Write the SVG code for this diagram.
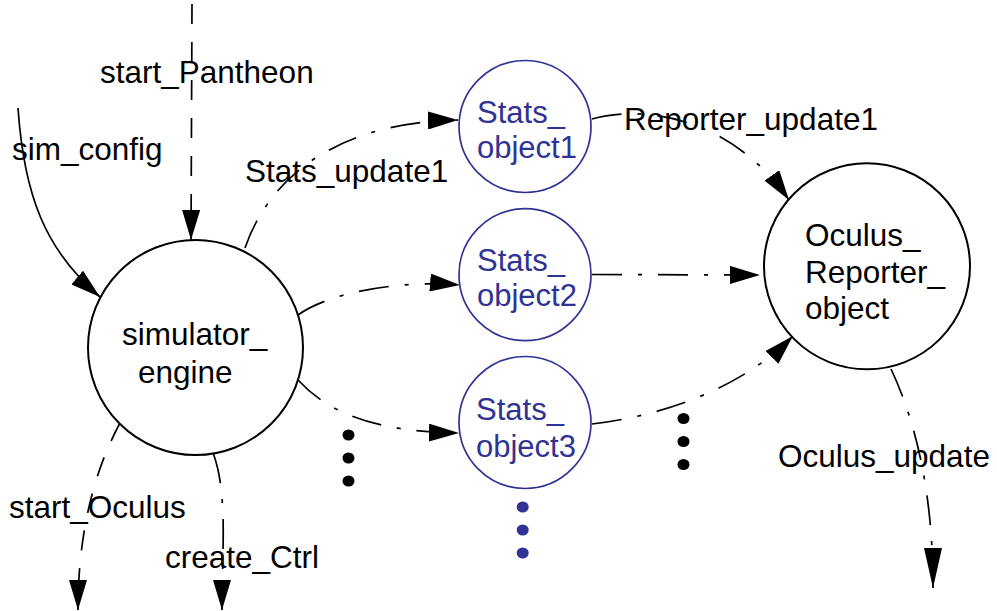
<svg xmlns="http://www.w3.org/2000/svg" width="997" height="611" viewBox="0 0 997 611">
  <style>
    .bg { fill: #ffffff; }
    .node-black { fill: #ffffff; stroke: #000000; stroke-width: 2; }
    .node-blue { fill: #ffffff; stroke: #2f3394; stroke-width: 1.7; }
    .txt { font-family: "Liberation Sans", Arial, Helvetica, sans-serif; font-size: 31.5px; fill: #000000; }
    .txt-blue { font-family: "Liberation Sans", Arial, Helvetica, sans-serif; font-size: 31px; fill: #2f3394; }
    .edge { fill: none; stroke: #000000; stroke-width: 1.7; }
    .solid { }
    .dashed { stroke-dasharray: 20 18; }
    .dashdot { stroke-dasharray: 30 16 4 16; }
    .dot-black { fill: #000000; }
    .dot-blue { fill: #2f3394; }
  </style>
  <defs>
    <marker id="arrow" markerUnits="userSpaceOnUse" viewBox="0 0 30 18" markerWidth="30" markerHeight="18" refX="30" refY="9" orient="auto">
      <path d="M0,0 L30,9 L0,18 z" fill="#000000"/>
    </marker>
    <marker id="arrow-long" markerUnits="userSpaceOnUse" viewBox="0 0 40 18" markerWidth="40" markerHeight="18" refX="40" refY="9" orient="auto">
      <path d="M0,0 L40,9 L0,18 z" fill="#000000"/>
    </marker>
  </defs>

  <rect class="bg" x="0" y="0" width="997" height="611"/>

  <!-- connectors -->
  <g id="connectors">
    <path id="e-sim-config" class="edge solid" d="M18,108 C24,195 45,250 100,297" marker-end="url(#arrow)"/>
    <path id="e-start-pantheon" class="edge dashed" d="M192,4 L191,240" marker-end="url(#arrow)"/>
    <path id="e-stats-update1" class="edge dashdot" d="M245,248 C270,175 340,122 458,120" marker-end="url(#arrow)"/>
    <path id="e-stats-update2" class="edge dashdot" d="M298,315 C330,292 400,280 460,285" marker-end="url(#arrow)"/>
    <path id="e-stats-update3" class="edge dashdot" d="M298,380 C330,415 380,432 459,433" marker-end="url(#arrow)"/>
    <path id="e-start-oculus" class="edge dashed" d="M120,423 C100,460 78,520 78,610" marker-end="url(#arrow)"/>
    <path id="e-create-ctrl" class="edge dashdot" d="M213.5,454 C228,495 222,550 222,610" marker-end="url(#arrow)"/>
    <path id="e-reporter-update1" class="edge dashdot" d="M592,119 C640,105 730,115 789,200" marker-end="url(#arrow)"/>
    <path id="e-reporter-update2" class="edge dashdot" d="M592,274.5 L760,275" marker-end="url(#arrow)"/>
    <path id="e-reporter-update3" class="edge dashdot" d="M592,424 C660,416 740,390 793,336" marker-end="url(#arrow)"/>
    <path id="e-oculus-update" class="edge dashdot" d="M891,369 C915,420 933,490 933,588" marker-end="url(#arrow-long)"/>
  </g>

  <!-- connector labels -->
  <g id="edge-labels">
    <text class="txt" x="100" y="83">start_Pantheon</text>
    <text class="txt" x="12" y="160">sim_config</text>
    <text class="txt" x="245" y="182">Stats_update1</text>
    <text class="txt" x="624" y="130">Reporter_update1</text>
    <text class="txt" x="9" y="518">start_Oculus</text>
    <text class="txt" x="165" y="568">create_Ctrl</text>
    <text class="txt" x="778" y="467">Oculus_update</text>
  </g>

  <!-- nodes -->
  <g id="simulator_engine">
    <circle class="node-black" cx="195.5" cy="347.5" r="107.5"/>
    <text class="txt" x="122" y="345">simulator_</text>
    <text class="txt" x="138" y="383">engine</text>
  </g>

  <g id="Stats_object1">
    <circle class="node-blue" cx="525" cy="126.5" r="66"/>
    <text class="txt-blue" x="477" y="122.5">Stats_</text>
    <text class="txt-blue" x="477" y="157.5">object1</text>
  </g>

  <g id="Stats_object2">
    <circle class="node-blue" cx="525" cy="274.7" r="66"/>
    <text class="txt-blue" x="477" y="271">Stats_</text>
    <text class="txt-blue" x="477" y="306">object2</text>
  </g>

  <g id="Stats_object3">
    <circle class="node-blue" cx="525" cy="422.5" r="66"/>
    <text class="txt-blue" x="476" y="420">Stats_</text>
    <text class="txt-blue" x="476" y="457">object3</text>
  </g>

  <g id="Oculus_Reporter_object">
    <circle class="node-black" cx="867" cy="266.3" r="103"/>
    <text class="txt" x="805" y="246">Oculus_</text>
    <text class="txt" x="805" y="282.5">Reporter_</text>
    <text class="txt" x="805" y="318.5">object</text>
  </g>

  <!-- ellipsis marks -->
  <g id="more-links-left">
    <ellipse class="dot-black" cx="348.5" cy="435" rx="6" ry="5.5"/>
    <ellipse class="dot-black" cx="348.5" cy="458" rx="6" ry="5.5"/>
    <ellipse class="dot-black" cx="348.5" cy="481" rx="6" ry="5.5"/>
  </g>
  <g id="more-links-right">
    <ellipse class="dot-black" cx="683.5" cy="418.5" rx="6" ry="5.5"/>
    <ellipse class="dot-black" cx="683.5" cy="441.5" rx="6" ry="5.5"/>
    <ellipse class="dot-black" cx="683.5" cy="464.5" rx="6" ry="5.5"/>
  </g>
  <g id="more-stats-objects">
    <ellipse class="dot-blue" cx="522.7" cy="507" rx="6" ry="5.5"/>
    <ellipse class="dot-blue" cx="522.7" cy="530" rx="6" ry="5.5"/>
    <ellipse class="dot-blue" cx="522.7" cy="553" rx="6" ry="5.5"/>
  </g>
</svg>
